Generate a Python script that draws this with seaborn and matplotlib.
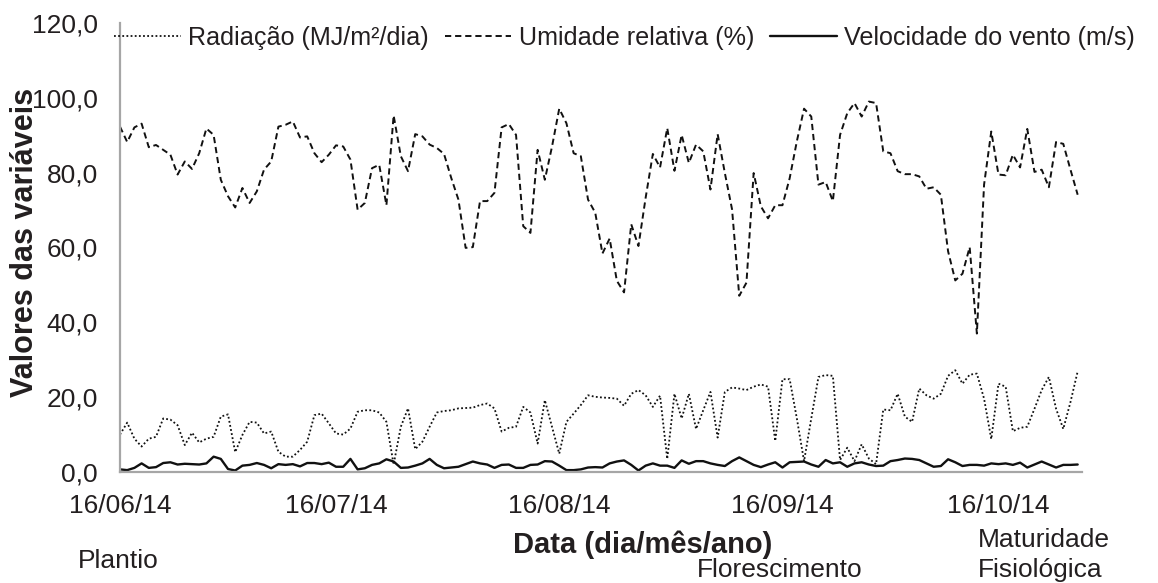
import matplotlib
matplotlib.use("Agg")
import matplotlib.pyplot as plt
import matplotlib.dates as mdates
import seaborn as sns
import pandas as pd
import numpy as np

# ---------------- data ----------------
start_date = "2014-06-16"
n_days = 134

umidade = [
    92.3, 88.2, 92.1, 93.1, 86.8, 87.4, 86.1, 84.8, 79.5, 83.0,
    81.0, 85.2, 91.8, 90.1, 78.1, 73.7, 70.7, 75.9, 71.9, 75.0,
    80.8, 83.0, 92.3, 92.8, 93.7, 89.4, 89.7, 85.2, 82.8, 84.8,
    87.3, 87.0, 83.5, 70.1, 71.9, 81.2, 82.1, 71.3, 95.3, 84.4,
    80.4, 90.3, 89.7, 87.5, 86.6,
    85.0, 78.6, 72.8, 59.9, 60.1, 72.4, 72.4, 74.6, 92.1, 93.0,
    90.1, 65.7, 63.9, 86.1, 78.1, 87.0, 97.1, 93.2, 85.2, 84.4,
    72.8, 69.3, 58.4, 62.4, 51.1, 48.0, 66.2, 60.4, 73.3, 85.0,
    81.4, 91.9, 80.5, 90.1, 82.6, 87.5, 85.7, 75.5, 90.3, 79.9,
    70.2, 47.1, 50.6, 79.9, 71.0, 67.8,
    71.3, 71.3, 78.5, 88.4, 97.1, 95.0, 76.8, 77.5, 72.4, 90.1,
    95.9, 98.6, 95.0, 99.0, 98.6, 85.7, 85.2, 80.4, 79.6, 79.6,
    79.0, 75.7, 76.1, 74.1, 59.0, 51.2, 53.0, 60.1, 37.0, 76.8,
    91.0, 79.5, 79.3, 84.8, 81.4, 91.7, 80.2, 80.8, 76.1, 88.2,
    87.7, 80.8, 74.1,
]

radiacao = [
    10.0, 13.2, 8.9, 6.8, 8.9, 9.4, 14.3, 14.0, 12.5, 7.2,
    10.5, 7.9, 8.9, 9.4, 14.8, 15.4, 5.3, 9.9, 13.4, 13.2,
    10.3, 10.8, 5.4, 4.1, 4.1, 5.9, 8.1, 15.2, 15.6, 13.0,
    10.3, 10.0, 11.6, 16.1, 16.5, 16.5, 15.9, 13.4, 2.0, 12.1,
    17.0, 6.1, 8.1, 12.1, 15.9,
    16.3, 16.5, 17.0, 17.1, 17.2, 17.9, 18.3, 17.0, 10.8, 11.8,
    12.1, 17.4, 15.9, 7.6, 19.2, 12.1, 4.9, 13.4, 15.6, 17.9,
    20.5, 20.1, 19.9, 19.8, 19.6, 17.7, 20.9, 21.9, 20.5, 17.4,
    20.4, 3.5, 20.9, 14.3, 20.9, 11.5, 16.5, 21.4, 9.2, 21.4,
    22.6, 22.3, 21.9, 22.8, 23.4, 22.8,
    8.3, 24.8, 24.8, 14.3, 2.9, 14.3, 25.4, 25.9, 25.7, 3.2,
    6.5, 2.9, 7.4, 3.6, 2.1, 16.7, 16.5, 20.9, 14.8, 13.4,
    22.3, 20.5, 19.6, 20.9, 25.7, 27.2, 23.6, 26.0, 26.3, 19.6,
    8.8, 23.6, 22.8, 10.9, 11.8, 12.1, 16.9, 21.9, 25.4, 16.9,
    11.5, 18.7, 26.9,
]

vento = [
    0.7, 0.5, 1.1, 2.3, 1.1, 1.3, 2.4, 2.6, 2.0, 2.2,
    2.1, 2.0, 2.3, 4.1, 3.5, 0.8, 0.4, 1.7, 1.9, 2.4,
    1.9, 1.0, 2.1, 1.9, 2.1, 1.5, 2.4, 2.4, 2.1, 2.5,
    1.4, 1.4, 3.5, 0.7, 1.0, 1.9, 2.3, 3.4, 2.8, 1.1,
    1.2, 1.7, 2.3, 3.5, 1.9,
    1.0, 1.2, 1.4, 2.1, 2.8, 2.3, 2.0, 1.1, 1.9, 2.0,
    1.1, 1.1, 1.9, 2.0, 2.9, 2.8, 1.7, 0.5, 0.5, 0.7,
    1.2, 1.3, 1.2, 2.3, 2.8, 3.1, 1.9, 0.4, 1.7, 2.3,
    1.7, 1.7, 1.1, 3.1, 2.2, 2.9, 2.9, 2.3, 1.9, 1.6,
    2.9, 3.9, 2.9, 1.9, 1.3, 2.0,
    2.6, 1.2, 2.6, 2.7, 2.8, 2.0, 1.4, 3.2, 2.3, 2.6,
    1.4, 2.3, 2.6, 2.0, 1.6, 1.7, 2.9, 3.2, 3.6, 3.5,
    3.2, 2.3, 1.4, 1.6, 3.4, 2.6, 1.6, 1.9, 1.9, 1.7,
    2.3, 2.1, 2.3, 1.9, 2.5, 1.2, 2.0, 2.8, 2.0, 1.2,
    1.9, 1.9, 2.0,
]

series_names = ["Radiação (MJ/m²/dia)", "Umidade relativa (%)", "Velocidade do vento (m/s)"]
x_tick_dates = ["2014-06-16", "2014-07-16", "2014-08-16", "2014-09-16", "2014-10-16"]
y_ticks = [0, 20, 40, 60, 80, 100, 120]
y_tick_labels = ["0,0", "20,0", "40,0", "60,0", "80,0", "100,0", "120,0"]
x_label = "Data (dia/mês/ano)"
y_label = "Valores das variáveis"
stage_labels = ["Plantio", "Florescimento", "Maturidade\nFisiológica"]

# ---------------- frame ----------------
dates = pd.date_range(start_date, periods=n_days, freq="D")
df = pd.DataFrame({
    "Data": dates,
    series_names[0]: radiacao,
    series_names[1]: umidade,
    series_names[2]: vento,
})

sns.set_theme(style="white")
plt.rcParams["font.family"] = ["Liberation Sans", "DejaVu Sans"]
text_color = "#231f20"
plt.rcParams["text.color"] = text_color
plt.rcParams["axes.labelcolor"] = text_color
plt.rcParams["xtick.color"] = text_color
plt.rcParams["ytick.color"] = text_color

W, H = 1158, 583
fig = plt.figure(figsize=(W / 100, H / 100), dpi=100)
ax = fig.add_axes([120 / W, 1 - 472 / H, (1082 - 120) / W, (472 - 23) / H])

styles = [
    dict(linestyle=(0, (1.0, 1.3)), linewidth=1.3),
    dict(linestyle=(0, (3.2, 2.0)), linewidth=1.4),
    dict(linestyle="-", linewidth=1.7),
]
for name, st in zip(series_names, styles):
    sns.lineplot(data=df, x="Data", y=name, ax=ax, color="#111111", label=name, **st)

x0 = pd.Timestamp(start_date)
ax.set_xlim(mdates.date2num(x0), mdates.date2num(x0) + 133.6)
ax.set_ylim(0, 120)

ax.set_xticks([mdates.date2num(pd.Timestamp(d)) for d in x_tick_dates])
ax.xaxis.set_major_formatter(mdates.DateFormatter("%d/%m/%y"))
ax.set_yticks(y_ticks)
ax.set_yticklabels(y_tick_labels)

spine_color = "#a6a6a6"
for s in ["top", "right"]:
    ax.spines[s].set_visible(False)
for s in ["left", "bottom"]:
    ax.spines[s].set_color(spine_color)
    ax.spines[s].set_linewidth(1.6)
ax.tick_params(axis="both", which="major", direction="out", colors=spine_color,
               labelcolor=text_color, labelsize=19, width=1.6)
ax.tick_params(axis="x", length=5.5, pad=10.5)
ax.tick_params(axis="y", length=6, pad=10)

ax.set_xlabel(x_label, fontsize=21, fontweight="bold")
ax.xaxis.set_label_coords((643 - 120) / 962, (472 - 553) / 449)
ax.xaxis.label.set_verticalalignment("baseline")
ax.set_ylabel(y_label, fontsize=22, fontweight="bold")
ax.yaxis.set_label_coords((25 - 120) / 962, (472 - 242) / 449)
ax.yaxis.label.set_verticalalignment("center")

ax.get_legend().remove()
handles, labels = ax.get_legend_handles_labels()
fig.legend(handles, labels, loc="center left", bbox_to_anchor=(114 / W, 1 - 38 / H),
           ncol=3, frameon=False, fontsize=18.1, handlelength=2.65, handletextpad=0.31,
           columnspacing=0.62, borderpad=0, borderaxespad=0)

fig.text(78 / W, 1 - 568 / H, stage_labels[0], fontsize=19, va="baseline", ha="left")
fig.text(697 / W, 1 - 577 / H, stage_labels[1], fontsize=19, va="baseline", ha="left")
fig.text(978 / W, 1 - 547 / H, stage_labels[2].split("\n")[0], fontsize=19, va="baseline", ha="left")
fig.text(978 / W, 1 - 577 / H, stage_labels[2].split("\n")[1], fontsize=19, va="baseline", ha="left")

fig.savefig("out.png", dpi=100)
